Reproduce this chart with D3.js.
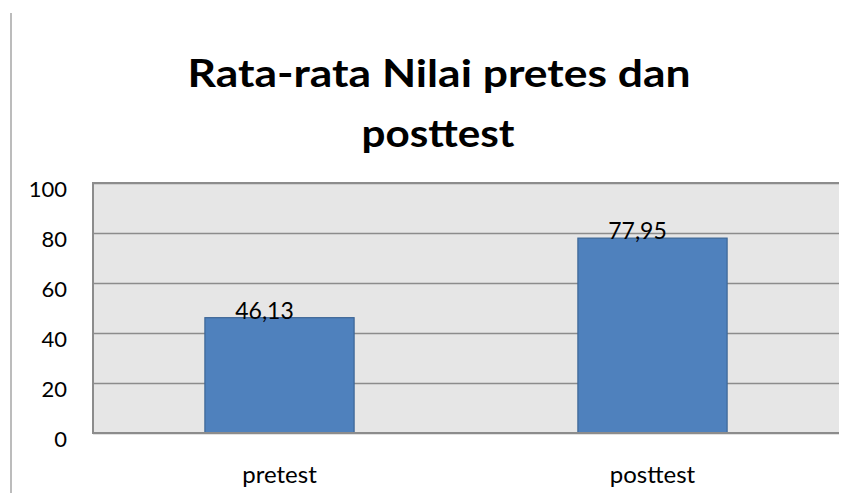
<!DOCTYPE html>
<html><head><meta charset="utf-8">
<script src="https://cdn.jsdelivr.net/npm/d3@7"></script>
<style>html,body{margin:0;padding:0;background:#fff;}svg{display:block;}</style>
</head><body>
<svg id="chart" width="854" height="493"></svg>
<script>
const categories = ["pretest", "posttest"];
const values = [46.13, 77.95];
const valueLabels = ["46,13", "77,95"];
const yTicks = [0, 20, 40, 60, 80, 100];
const titleLines = ["Rata-rata Nilai pretes dan", "posttest"];

const svg = d3.select("#chart");
const W = 854, H = 493;
const m = {left: 93, top: 183, right: 839, bottom: 433};
const font = "Lato, 'Open Sans', sans-serif";

// left decorative line
svg.append("line").attr("x1", 11).attr("x2", 11).attr("y1", 13).attr("y2", H)
  .attr("stroke", "#a6a6a6").attr("stroke-width", 1.5);

const x = d3.scaleBand().domain(categories).range([m.left, m.right]).paddingInner(0.6).paddingOuter(0.3);
const y = d3.scaleLinear().domain([0, 100]).range([m.bottom, m.top]);

// plot background
svg.append("rect").attr("x", m.left).attr("y", m.top).attr("width", m.right - m.left).attr("height", m.bottom - m.top)
  .attr("fill", "#e6e6e6");

// gridlines via axis
const grid = svg.append("g").attr("transform", `translate(${m.left},0)`)
  .call(d3.axisLeft(y).tickValues(yTicks).tickSize(-(m.right - m.left)).tickFormat(""));
grid.select(".domain").remove();
grid.selectAll(".tick line").attr("stroke", "#8c8c8c").attr("stroke-width", 1.5);

// left and top border
svg.append("line").attr("x1", m.left).attr("x2", m.left).attr("y1", m.top - 1).attr("y2", m.bottom + 1)
  .attr("stroke", "#8c8c8c").attr("stroke-width", 2);
svg.append("line").attr("x1", m.left).attr("x2", m.right).attr("y1", y(100)).attr("y2", y(100))
  .attr("stroke", "#8c8c8c").attr("stroke-width", 2);

// y tick labels
svg.append("g").selectAll("text").data(yTicks).join("text")
  .attr("x", 67).attr("y", d => y(d) + 14)
  .attr("text-anchor", "end").attr("font-family", font).attr("font-size", 22).attr("fill", "#000")
  .text(d => d);

// bars
svg.append("g").selectAll("rect").data(values).join("rect")
  .attr("x", (d, i) => x(categories[i])).attr("y", d => y(d))
  .attr("width", x.bandwidth()).attr("height", d => y(0) - y(d))
  .attr("fill", "#4f81bd").attr("stroke", "#3d6696").attr("stroke-width", 1.2);

// bottom axis line
svg.append("line").attr("x1", m.left).attr("x2", m.right).attr("y1", y(0)).attr("y2", y(0))
  .attr("stroke", "#8c8c8c").attr("stroke-width", 2);

// value labels
svg.append("g").selectAll("text").data(values).join("text")
  .attr("x", (d, i) => x(categories[i]) + x.bandwidth() / 2 - 15).attr("y", d => y(d) + 1)
  .attr("text-anchor", "middle").attr("font-family", font).attr("font-size", 23).attr("fill", "#000")
  .text((d, i) => valueLabels[i]);

// category labels
svg.append("g").selectAll("text").data(categories).join("text")
  .attr("x", d => x(d) + x.bandwidth() / 2).attr("y", 483)
  .attr("text-anchor", "middle").attr("font-family", font).attr("font-size", 24).attr("fill", "#000")
  .text(d => d);

// title
const tW = [503, 153];
svg.append("g").selectAll("text").data(titleLines).join("text")
  .attr("x", (d, i) => i === 0 ? 439 : 438).attr("y", (d, i) => i === 0 ? 87 : 147)
  .attr("text-anchor", "middle").attr("font-family", font).attr("font-weight", "bold")
  .attr("font-size", 38).attr("fill", "#000")
  .attr("textLength", (d, i) => tW[i]).attr("lengthAdjust", "spacingAndGlyphs")
  .text(d => d);
</script>
</body></html>
